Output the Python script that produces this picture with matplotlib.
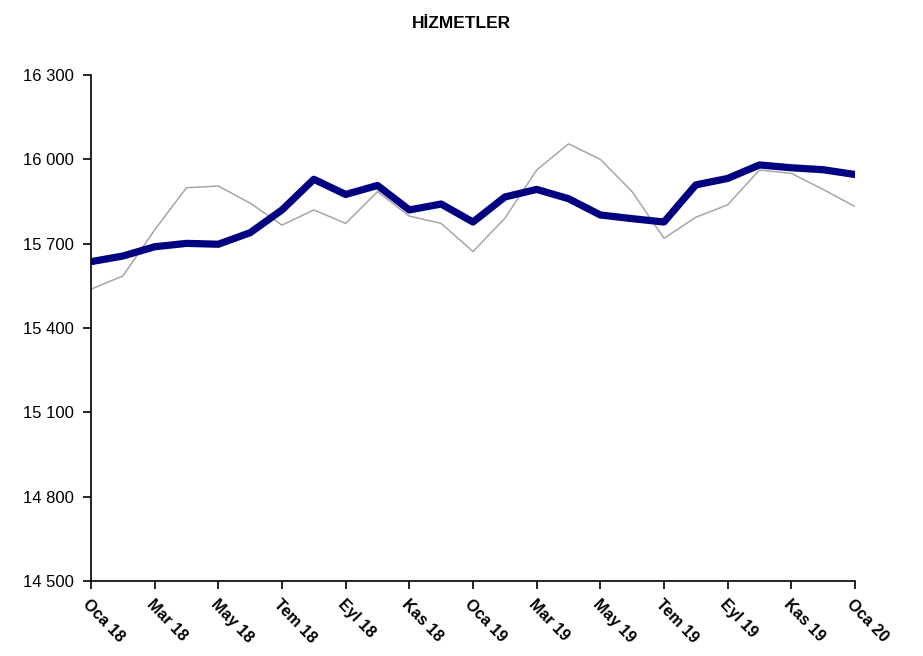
import matplotlib
matplotlib.use("Agg")
import matplotlib.pyplot as plt
from matplotlib.ticker import FuncFormatter

plt.rcParams['font.family'] = ['Liberation Sans', 'DejaVu Sans']

# months Oca 18 .. Oca 20
months = ['Oca', 'Şub', 'Mar', 'Nis', 'May', 'Haz', 'Tem', 'Ağu', 'Eyl', 'Eki', 'Kas', 'Ara']
labels = [m + ' ' + str(18 + i // 12) for i, m in enumerate(months * 2)] + ['Oca 20']

# thick navy series (trend)
navy = [15636, 15656, 15689, 15701, 15698, 15739, 15820, 15929, 15875, 15907,
        15820, 15841, 15777, 15866, 15893, 15860, 15802, 15789, 15777, 15909,
        15932, 15980, 15970, 15963, 15946]
# thin grey series
grey = [15538, 15585, 15749, 15899, 15905, 15844, 15766, 15820, 15772, 15885,
        15798, 15772, 15672, 15790, 15962, 16055, 16000, 15885, 15719, 15794,
        15838, 15962, 15950, 15893, 15832]

yticks = [14500, 14800, 15100, 15400, 15700, 16000, 16300]

x = list(range(len(labels)))

fig = plt.figure(figsize=(9.23, 6.56), dpi=100)
ax = fig.add_axes([0.0986, 0.1143, 0.8277, 0.7714])

ax.plot(x, grey, color='#a6a6a6', linewidth=1.1)
ax.plot(x, navy, color='#000080', linewidth=5.2, solid_joinstyle='round')

ax.set_xlim(0, len(labels) - 1)
ax.set_ylim(yticks[0], yticks[-1])
ax.set_yticks(yticks)
ax.yaxis.set_major_formatter(FuncFormatter(lambda v, p: '{:,.0f}'.format(v).replace(',', ' ')))

ax.set_xticks(x[::2])
ax.set_xticklabels(labels[::2], rotation=-46, ha='left', va='top',
                   rotation_mode='anchor', fontweight='bold', fontsize=11.5)
for lab in ax.get_yticklabels():
    lab.set_fontsize(12)

ax.spines['top'].set_visible(False)
ax.spines['right'].set_visible(False)
ax.spines['left'].set_linewidth(1.2)
ax.spines['bottom'].set_linewidth(1.2)
ax.tick_params(axis='both', direction='out', length=6, width=1.2)
ax.tick_params(axis='y', pad=6)
ax.tick_params(axis='x', pad=5)

fig.text(0.5, 0.975, 'HİZMETLER', ha='center', va='top', fontsize=12.5, fontweight='bold',
         family=['Liberation Sans Narrow', 'Liberation Sans', 'DejaVu Sans'])

fig.savefig('out.png', dpi=100)
